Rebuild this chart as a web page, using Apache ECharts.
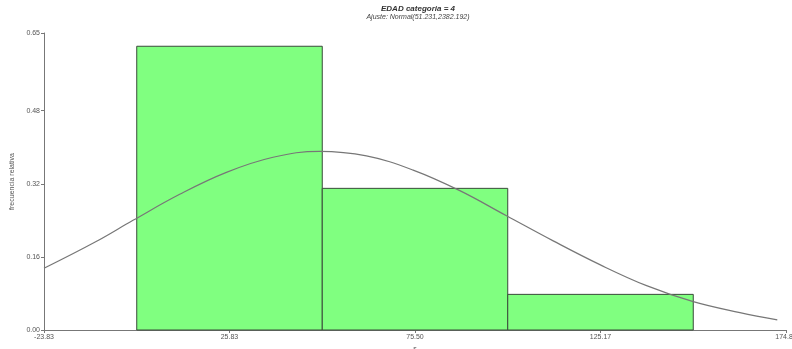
<!DOCTYPE html>
<html><head><meta charset="utf-8">
<script src="https://cdn.jsdelivr.net/npm/echarts@6/dist/echarts.min.js"></script>
<style>html,body{margin:0;padding:0;background:#fff}#c{width:792px;height:349px}</style>
</head><body><div id="c"></div>
<script>
const binStart = [1.0, 50.67, 100.33];
const binEnd = [50.67, 100.33, 150.0];
const relFreq = [0.621, 0.310, 0.078];
const xTicks = [-23.83, 25.83, 75.50, 125.17, 174.83];
const yTicks = [0, 0.16, 0.32, 0.48, 0.65];
const curveX = [-23.83, -10, 0, 12.5, 25, 37.5, 50, 62.5, 75, 87.5, 100, 112.5, 125, 137.5, 150, 162.5, 172.5];
const curveY = [0.135, 0.193, 0.240, 0.297, 0.345, 0.378, 0.391, 0.381, 0.350, 0.305, 0.250, 0.195, 0.143, 0.097, 0.062, 0.038, 0.022];

const chart = echarts.init(document.getElementById('c'));
const axisColor = '#777';
const labelStyle = {fontSize: 7, color: '#555', fontFamily: 'Liberation Sans'};
chart.setOption({
  animation: false,
  title: {
    text: 'EDAD categoria = 4',
    subtext: 'Ajuste: Normal(51.231,2382.192)',
    left: 413, top: 0, textAlign: 'center', itemGap: 1,
    textStyle: {fontSize: 8, fontStyle: 'italic', fontWeight: 'bold', color: '#333', fontFamily: 'Liberation Sans'},
    subtextStyle: {fontSize: 7, fontStyle: 'italic', color: '#444', fontFamily: 'Liberation Sans'}
  },
  grid: {left: 44, right: 6, top: 33, bottom: 19, containLabel: false, outerBoundsMode: 'none'},
  xAxis: {
    type: 'value', min: -23.83, max: 174.83,
    name: 's', nameLocation: 'middle', nameGap: 12,
    nameTextStyle: {fontSize: 7, color: '#555'},
    axisLine: {onZero: false, lineStyle: {color: axisColor}},
    axisTick: {customValues: xTicks, length: 3, lineStyle: {color: axisColor}},
    axisLabel: Object.assign({customValues: xTicks, margin: 4, hideOverlap: false, formatter: v => v.toFixed(2)}, labelStyle),
    splitLine: {show: false}
  },
  yAxis: {
    type: 'value', min: 0, max: 0.65,
    name: 'frecuencia relativa', nameLocation: 'middle', nameGap: 28,
    nameTextStyle: {fontSize: 7, color: '#555'},
    axisLine: {show: true, onZero: false, lineStyle: {color: axisColor}},
    axisTick: {show: true, customValues: yTicks, length: 3, lineStyle: {color: axisColor}},
    axisLabel: Object.assign({customValues: yTicks, margin: 4, formatter: v => v.toFixed(2)}, labelStyle),
    splitLine: {show: false}
  },
  series: [
    {
      type: 'custom',
      data: binStart.map((s, i) => [s, binEnd[i], relFreq[i]]),
      encode: {x: [0, 1], y: 2},
      renderItem: function (params, api) {
        const p0 = api.coord([api.value(0), api.value(2)]);
        const p1 = api.coord([api.value(1), 0]);
        return {
          type: 'rect',
          shape: {x: p0[0], y: p0[1], width: p1[0] - p0[0], height: p1[1] - p0[1]},
          style: {fill: '#80ff80', stroke: '#3a4a3a', lineWidth: 1}
        };
      },
      z: 1
    },
    {
      type: 'line',
      data: curveX.map((x, i) => [x, curveY[i]]),
      smooth: 0.4, showSymbol: false, symbol: 'none',
      lineStyle: {color: '#777', width: 1.2},
      z: 3
    }
  ]
});
</script></body></html>
